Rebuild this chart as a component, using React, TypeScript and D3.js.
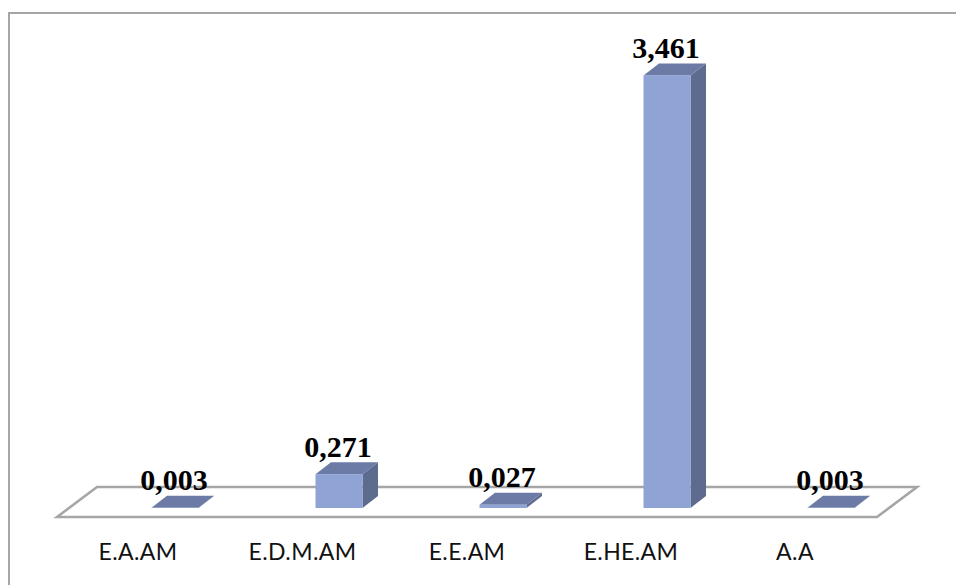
import React from "react";
import * as d3 from "d3";

const categories = ["E.A.AM", "E.D.M.AM", "E.E.AM", "E.HE.AM", "A.A"];
const values = [0.003, 0.271, 0.027, 3.461, 0.003];
const valueLabels = ["0,003", "0,271", "0,027", "3,461", "0,003"];
const labelCenters = [138, 302.5, 467, 631, 795];

const W = 956;
const H = 585;
const DEPTH_X = 15.5;
const DEPTH_Y = 12;
const FLOOR_Y = 508;

const FRONT = "#8fa3d4";
const TOP = "#6b7ba6";
const SIDE = "#5d6b8e";
const FRAME = "#a6a6a6";

// Five bands of 164px; the padding leaves each bar about 47px wide.
const x = d3
  .scaleBand<string>()
  .domain(categories)
  .range([151.5 - 58.5, 151.5 - 58.5 + 164 * 5])
  .paddingInner(117 / 164)
  .paddingOuter(58.5 / 164);

// 125px per unit measured along the front face.
const y = d3.scaleLinear().domain([0, 3.461]).range([FLOOR_Y, FLOOR_Y - 432.6]);

const poly = (pts: [number, number][]) => {
  const line = d3.line();
  return line(pts) + "Z";
};

export default function App() {
  const bw = x.bandwidth();
  return (
    <svg
      width={W}
      height={H}
      viewBox={`0 0 ${W} ${H}`}
      style={{ position: "absolute", left: 0, top: 0, background: "#fff" }}
    >
      {/* Chart frame, open at the right and bottom edges of the page */}
      <path d={`M9 ${H}V13H${W}`} fill="none" stroke={FRAME} strokeWidth={2} />

      {/* Floor of the 3D plot */}
      <path
        d={poly([
          [57, 517],
          [97, 487],
          [917, 487],
          [877, 517],
        ])}
        fill="#fff"
        stroke={FRAME}
        strokeWidth={2.6}
      />

      {categories.map((c, i) => {
        const x0 = x(c)!;
        const x1 = x0 + bw;
        const yTop = y(values[i]);
        return (
          <g key={c}>
            <path
              d={poly([
                [x1, yTop],
                [x1 + DEPTH_X, yTop - DEPTH_Y],
                [x1 + DEPTH_X, FLOOR_Y - DEPTH_Y],
                [x1, FLOOR_Y],
              ])}
              fill={SIDE}
            />
            <path
              d={poly([
                [x0, yTop],
                [x0 + DEPTH_X, yTop - DEPTH_Y],
                [x1 + DEPTH_X, yTop - DEPTH_Y],
                [x1, yTop],
              ])}
              fill={TOP}
            />
            <rect x={x0} y={yTop} width={bw} height={FLOOR_Y - yTop} fill={FRONT} />
          </g>
        );
      })}

      {/* Value labels sit just above each bar's top face */}
      {categories.map((c, i) => (
        <text
          key={c}
          x={x(c)! + bw / 2 - 1}
          y={y(values[i]) - DEPTH_Y - 5.5}
          textAnchor="middle"
          fontFamily="'Liberation Serif', serif"
          fontWeight={700}
          fontSize={30}
          fill="#000"
        >
          {valueLabels[i]}
        </text>
      ))}

      {/* Category labels */}
      {categories.map((c, i) => (
        <text
          key={c}
          x={labelCenters[i]}
          y={560}
          textAnchor="middle"
          fontFamily="Lato, sans-serif"
          fontSize={23}
          letterSpacing={0.4}
          fill="#111"
        >
          {c}
        </text>
      ))}
    </svg>
  );
}
